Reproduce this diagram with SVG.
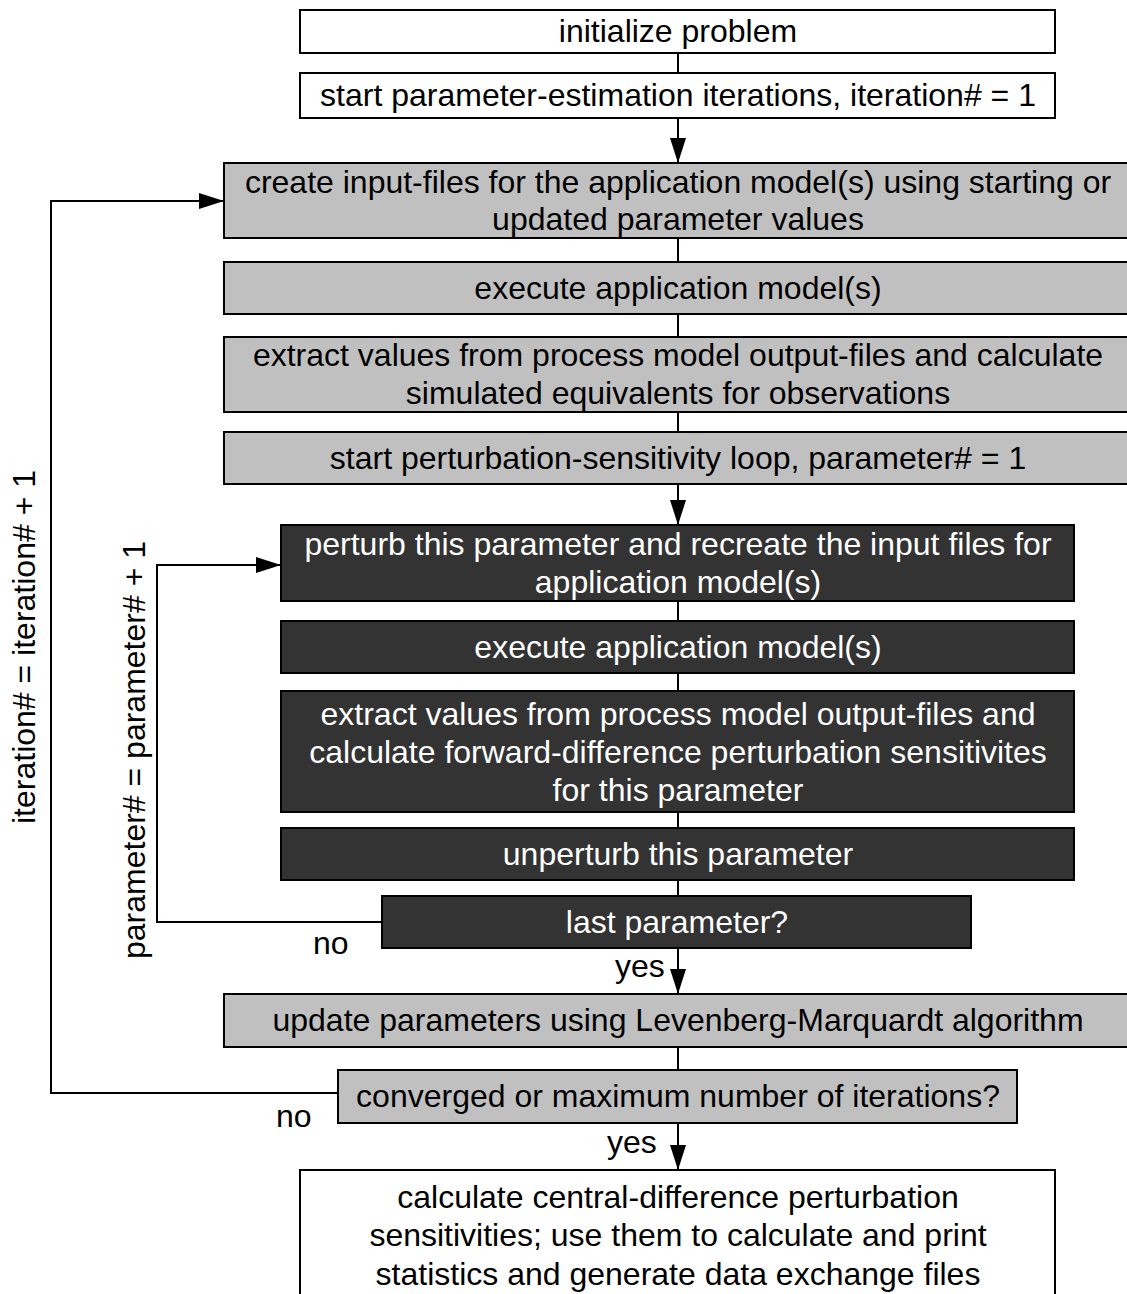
<svg xmlns="http://www.w3.org/2000/svg" width="1127" height="1294" viewBox="0 0 1127 1294">
<style>
text{font-family:"Liberation Sans",Arial,sans-serif;font-size:32px;text-anchor:middle;fill:#000}
.w{fill:#fff;stroke:#000;stroke-width:2}
.g{fill:#c0c0c0;stroke:#000;stroke-width:2}
.d{fill:#333;stroke:#000;stroke-width:2}
.d ~ text,.dt{fill:#fff}
.c{fill:none;stroke:#000;stroke-width:2}
.lab{text-anchor:start}
</style>
<defs>
<marker id="ah" viewBox="0 0 25 16" refX="25" refY="8" markerWidth="25" markerHeight="16" markerUnits="userSpaceOnUse" orient="auto">
<path d="M0,0 L25,8 L0,16 Z" fill="#000"/>
</marker>
</defs>
<rect width="1127" height="1294" fill="#fff"/>
<g id="connectors">
<line class="c" x1="678" y1="53" x2="678" y2="73"/>
<line class="c" x1="678" y1="118" x2="678" y2="163" marker-end="url(#ah)"/>
<line class="c" x1="678" y1="238" x2="678" y2="262"/>
<line class="c" x1="678" y1="314" x2="678" y2="337"/>
<line class="c" x1="678" y1="412" x2="678" y2="432"/>
<line class="c" x1="678" y1="484" x2="678" y2="525" marker-end="url(#ah)"/>
<line class="c" x1="678" y1="601" x2="678" y2="621"/>
<line class="c" x1="678" y1="673" x2="678" y2="691"/>
<line class="c" x1="678" y1="812" x2="678" y2="828"/>
<line class="c" x1="678" y1="880" x2="678" y2="896"/>
<line class="c" x1="678" y1="948" x2="678" y2="994" marker-end="url(#ah)"/>
<line class="c" x1="678" y1="1047" x2="678" y2="1070"/>
<line class="c" x1="678" y1="1123" x2="678" y2="1170" marker-end="url(#ah)"/>
<polyline class="c" points="382,922 157,922 157,565 281,565" marker-end="url(#ah)"/>
<polyline class="c" points="338,1093 51,1093 51,201 224,201" marker-end="url(#ah)"/>
<text class="lab" x="313" y="954">no</text>
<text class="lab" x="276" y="1127">no</text>
<text class="lab" x="615" y="977">yes</text>
<text class="lab" x="607" y="1153">yes</text>
<text transform="translate(35,647) rotate(-90)">iteration# = iteration# + 1</text>
<text transform="translate(145,750) rotate(-90)">parameter# = parameter# + 1</text>
</g>
<g id="n1"><rect class="w" x="300" y="10" width="755" height="43"/><text x="678" y="42">initialize problem</text></g>
<g id="n2"><rect class="w" x="300" y="73" width="755" height="45"/><text x="678" y="106">start parameter-estimation iterations, iteration# = 1</text></g>
<g id="n3"><rect class="g" x="224" y="163" width="910" height="75"/><text x="678" y="193">create input-files for the application model(s) using starting or</text><text x="678" y="230">updated parameter values</text></g>
<g id="n4"><rect class="g" x="224" y="262" width="910" height="52"/><text x="678" y="299">execute application model(s)</text></g>
<g id="n5"><rect class="g" x="224" y="337" width="910" height="75"/><text x="678" y="366">extract values from process model output-files and calculate</text><text x="678" y="404">simulated equivalents for observations</text></g>
<g id="n6"><rect class="g" x="224" y="432" width="910" height="52"/><text x="678" y="469">start perturbation-sensitivity loop, parameter# = 1</text></g>
<g id="n7"><rect class="d" x="281" y="525" width="793" height="76"/><text class="dt" x="678" y="555">perturb this parameter and recreate the input files for</text><text class="dt" x="678" y="593">application model(s)</text></g>
<g id="n8"><rect class="d" x="281" y="621" width="793" height="52"/><text class="dt" x="678" y="658">execute application model(s)</text></g>
<g id="n9"><rect class="d" x="281" y="691" width="793" height="121"/><text class="dt" x="678" y="725">extract values from process model output-files and</text><text class="dt" x="678" y="763">calculate forward-difference perturbation sensitivites</text><text class="dt" x="678" y="801">for this parameter</text></g>
<g id="n10"><rect class="d" x="281" y="828" width="793" height="52"/><text class="dt" x="678" y="865">unperturb this parameter</text></g>
<g id="n11"><rect class="d" x="382" y="896" width="589" height="52"/><text class="dt" x="677" y="933">last parameter?</text></g>
<g id="n12"><rect class="g" x="224" y="994" width="910" height="53"/><text x="678" y="1031">update parameters using Levenberg-Marquardt algorithm</text></g>
<g id="n13"><rect class="g" x="338" y="1070" width="679" height="53"/><text x="678" y="1107">converged or maximum number of iterations?</text></g>
<g id="n14"><rect class="w" x="300" y="1170" width="755" height="140"/><text x="678" y="1208">calculate central-difference perturbation</text><text x="678" y="1246">sensitivities; use them to calculate and print</text><text x="678" y="1285">statistics and generate data exchange files</text></g>
</svg>
